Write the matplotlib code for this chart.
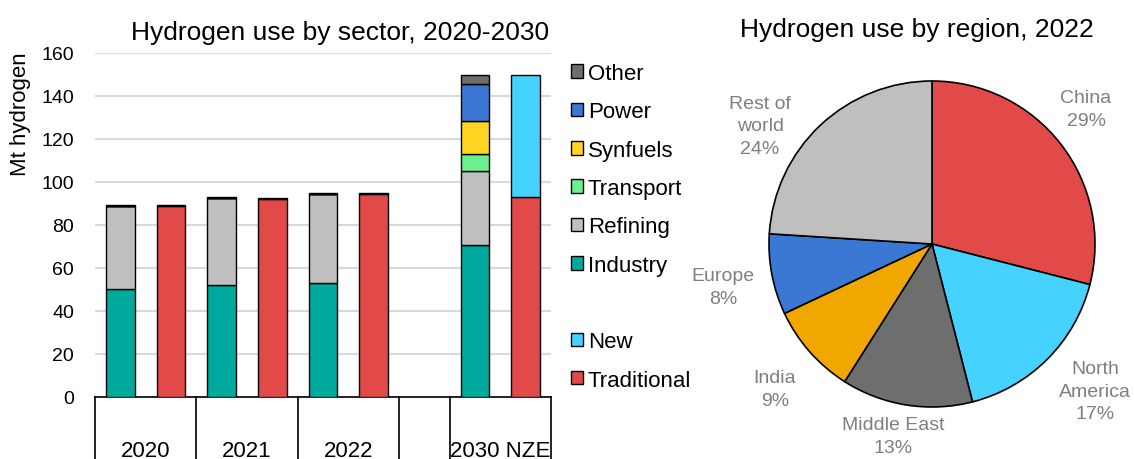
import matplotlib.pyplot as plt
from matplotlib.patches import Patch
from matplotlib.transforms import blended_transform_factory
import numpy as np

plt.rcParams['font.family'] = ['Liberation Sans', 'DejaVu Sans']

# bar chart data (Mt hydrogen)
years = ['2020', '2021', '2022', '2030 NZE']
industry = [50.3, 51.9, 52.9, 70.8]
refining = [38.5, 40.5, 41.7, 34.5]
transport = [0, 0, 0, 7.7]
synfuels = [0, 0, 0, 15.2]
power = [0, 0, 0, 17.4]
other = [0.6, 0.4, 0.5, 4.4]
traditional = [89.0, 92.3, 94.2, 92.8]
new = [0.5, 0.4, 0.8, 57.2]

# pie chart data (share 2022)
regions = ['China', 'North\nAmerica', 'Middle East', 'India', 'Europe', 'Rest of\nworld']
shares = [29, 17, 13, 9, 8, 24]

c_sector = {'Industry': '#00a99d', 'Refining': '#bfbfbf', 'Transport': '#6cf08f',
            'Synfuels': '#ffd322', 'Power': '#3a78d4', 'Other': '#6d6d6d'}
c_trad = '#e24a4a'
c_new = '#45d2ff'
c_regions = ['#e24a4a', '#45d2ff', '#6d6f6e', '#f0a800', '#3a78d4', '#bfbfbf']

fig = plt.figure(figsize=(11.34, 4.6), dpi=100)

# ---- bars ----
ax = fig.add_axes([95/1134, 1-398/460, 456/1134, 344/460])
slots_sector = np.array([0, 2, 4, 7])
slots_src = slots_sector + 1
w = 0.57

bottom = np.zeros(4)
for name, vals in [('Industry', industry), ('Refining', refining), ('Transport', transport),
                   ('Synfuels', synfuels), ('Power', power), ('Other', other)]:
    ax.bar(slots_sector, vals, w, bottom=bottom, color=c_sector[name],
           edgecolor='black', linewidth=1, zorder=3)
    bottom += np.array(vals)

ax.bar(slots_src, traditional, w, color=c_trad, edgecolor='black', linewidth=1, zorder=3)
ax.bar(slots_src, new, w, bottom=traditional, color=c_new, edgecolor='black', linewidth=1, zorder=3)

ax.set_xlim(-0.5, 8.5)
ax.set_ylim(0, 160)
ax.set_yticks(range(0, 161, 20))
ax.tick_params(axis='y', length=0, pad=15, labelsize=14)
ax.set_xticks([])
ax.grid(axis='y', color='#d9d9d9', linewidth=1.5, zorder=0)
for s in ['top', 'right', 'left']:
    ax.spines[s].set_visible(False)
ax.spines['bottom'].set_linewidth(1.2)
ax.set_ylabel('Mt hydrogen', fontsize=16)
ax.yaxis.set_label_coords(-0.14, 0.826)

# category boxes under the axis
tr = blended_transform_factory(ax.transData, ax.transAxes)
for xb in [-0.5, 1.5, 3.5, 5.5, 6.5, 8.5]:
    ax.plot([xb, xb], [0, -0.2], color='black', linewidth=1.2, transform=tr, clip_on=False)
for i, y in enumerate(years):
    xc = (slots_sector[i] + slots_src[i]) / 2
    ax.text(xc, -0.125, y, transform=tr, ha='center', va='top', fontsize=16)

fig.text(340/1134, 1-33/460, 'Hydrogen use by sector, 2020-2030', ha='center', va='center', fontsize=19)

handles = [Patch(facecolor=c_sector[k], edgecolor='black', label=k)
           for k in ['Other', 'Power', 'Synfuels', 'Transport', 'Refining', 'Industry']]
handles.append(Patch(facecolor='none', edgecolor='none', label=''))
handles.append(Patch(facecolor=c_new, edgecolor='black', label='New'))
handles.append(Patch(facecolor=c_trad, edgecolor='black', label='Traditional'))
fig.legend(handles=handles, loc='upper left', bbox_to_anchor=(571/1134, 1-64/460),
           frameon=False, fontsize=16, handlelength=0.55, handleheight=0.55,
           handletextpad=0.2, labelspacing=0.78, borderaxespad=0, borderpad=0)

# ---- pie ----
pax = fig.add_axes([(932-200)/1134, 1-(245+200)/460, 400/1134, 400/460])
wedges, _ = pax.pie(shares, colors=c_regions, startangle=90, counterclock=False,
                    wedgeprops=dict(edgecolor='black', linewidth=1.2))
pax.set_xlim(-200/163, 200/163)
pax.set_ylim(-200/163, 200/163)
pax.set_aspect('equal')
# label positions in pie-radius units
lab_x = [0.945, 1.0, -0.239, -0.963, -1.282, -1.055]
lab_y = [0.828, -0.902, -1.178, -0.890, -0.264, 0.724]
for lab, sh, lx, ly in zip(regions, shares, lab_x, lab_y):
    pax.text(lx, ly, f'{lab}\n{sh}%', ha='center', va='center',
             fontsize=14, color='#7f7f7f', linespacing=1.45)

fig.text(917/1134, 1-30/460, 'Hydrogen use by region, 2022', ha='center', va='center', fontsize=19)

plt.savefig('out.png', dpi=100)
